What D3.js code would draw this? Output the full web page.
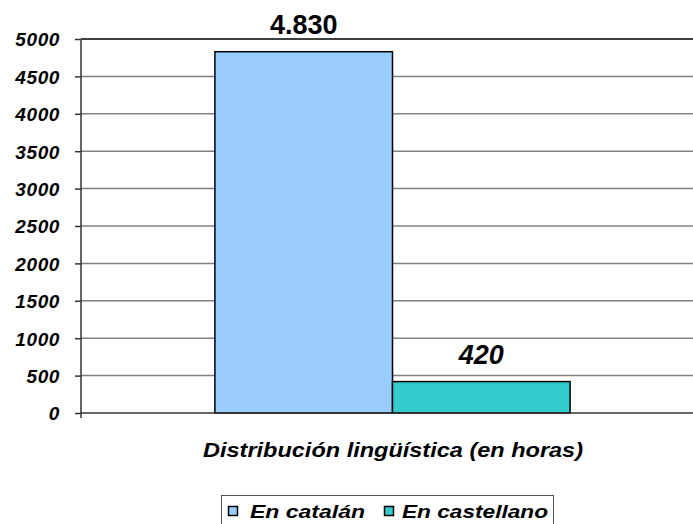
<!DOCTYPE html>
<html><head><meta charset="utf-8">
<script src="https://cdn.jsdelivr.net/npm/d3@7"></script>
<style>
html,body{margin:0;padding:0;background:#fff;}
svg text{font-family:"Liberation Sans",Arial,sans-serif;font-weight:bold;}
</style></head>
<body><svg id="c" width="693" height="524"></svg>
<script>
const categories = ["Distribución lingüística (en horas)"];
const seriesNames = ["En catalán", "En castellano"];
const seriesValues = [4830, 420];
const valueLabels = ["4.830", "420"];
const yTicks = [0, 500, 1000, 1500, 2000, 2500, 3000, 3500, 4000, 4500, 5000];
const colors = ["#99ccff", "#33cccc"];

(function () {
const svg = d3.select("#c");
const pLeft = 81, pRight = 704, pTop = 39, pBottom = 413;
const y = d3.scaleLinear().domain([0, 5000]).range([pBottom, pTop]);
const x0 = d3.scaleBand().domain(categories).range([pLeft, pRight]).paddingInner(0).paddingOuter(0.377);
const x1 = d3.scaleBand().domain(seriesNames).range([0, x0.bandwidth()]);

// gridlines
svg.append("g").selectAll("line").data(yTicks.filter(t => t > 0 && t < 5000)).join("line")
  .attr("x1", pLeft).attr("x2", 693).attr("y1", d => y(d)).attr("y2", d => y(d))
  .attr("stroke", "#808080").attr("stroke-width", 1.5);
// top border
svg.append("line").attr("x1", pLeft).attr("x2", 693).attr("y1", y(5000)).attr("y2", y(5000))
  .attr("stroke", "#000").attr("stroke-width", 1.5);

// y axis
const yAxis = d3.axisLeft(y).tickValues(yTicks).tickSize(6).tickPadding(15).tickFormat(d3.format("d"));
const ga = svg.append("g").attr("transform", `translate(${pLeft},0)`).call(yAxis);
ga.select(".domain").remove();
ga.selectAll(".tick line").attr("stroke", "#333").attr("stroke-width", 1.5);
ga.selectAll(".tick text").style("font-size", "19px").attr("font-style", "italic").attr("fill", "#000")
  .attr("letter-spacing", 0.6).attr("dy", "0.36em");
svg.append("line").attr("x1", pLeft).attr("x2", pLeft).attr("y1", pTop).attr("y2", pBottom + 5)
  .attr("stroke", "#333").attr("stroke-width", 1.5);

// bars
const g = svg.append("g").attr("transform", `translate(${x0(categories[0])},0)`);
g.selectAll("rect").data(seriesValues).join("rect")
  .attr("x", (d, i) => x1(seriesNames[i]))
  .attr("y", d => y(d))
  .attr("width", x1.bandwidth())
  .attr("height", d => y(0) - y(d))
  .attr("fill", (d, i) => colors[i])
  .attr("stroke", "#000").attr("stroke-width", 1.5);

// zero line
svg.append("line").attr("x1", pLeft).attr("x2", 693).attr("y1", y(0)).attr("y2", y(0))
  .attr("stroke", "#333").attr("stroke-width", 1.5);

// value labels
g.selectAll("text.v").data(seriesValues).join("text").attr("class", "v")
  .attr("x", (d, i) => x1(seriesNames[i]) + x1.bandwidth() / 2)
  .attr("y", d => y(d) - 18)
  .attr("text-anchor", "middle")
  .attr("font-size", 27)
  .attr("font-style", (d, i) => i === 0 ? "normal" : "italic")
  .text((d, i) => valueLabels[i]);

// category title
svg.append("text").attr("x", 203).attr("y", 457)
  .attr("font-size", 20).attr("font-style", "italic")
  .attr("textLength", 380).attr("lengthAdjust", "spacingAndGlyphs")
  .text(categories[0]);

// legend
const lg = svg.append("g");
lg.append("rect").attr("x", 221.5).attr("y", 495.5).attr("width", 332).attr("height", 40)
  .attr("fill", "#fff").attr("stroke", "#555").attr("stroke-width", 1);
const sqx = [228, 384];
const tx = [250, 402];
const lw = [115, 146];
seriesNames.forEach((s, i) => {
  lg.append("rect").attr("x", sqx[i] + 0.5).attr("y", 506.5).attr("width", 9).attr("height", 9)
    .attr("fill", colors[i]).attr("stroke", "#000").attr("stroke-width", 1.5);
  lg.append("text").attr("x", tx[i]).attr("y", 518).attr("font-size", 18)
    .attr("font-style", "italic").attr("textLength", lw[i]).attr("lengthAdjust", "spacingAndGlyphs").text(s);
});
})();
</script></body></html>
